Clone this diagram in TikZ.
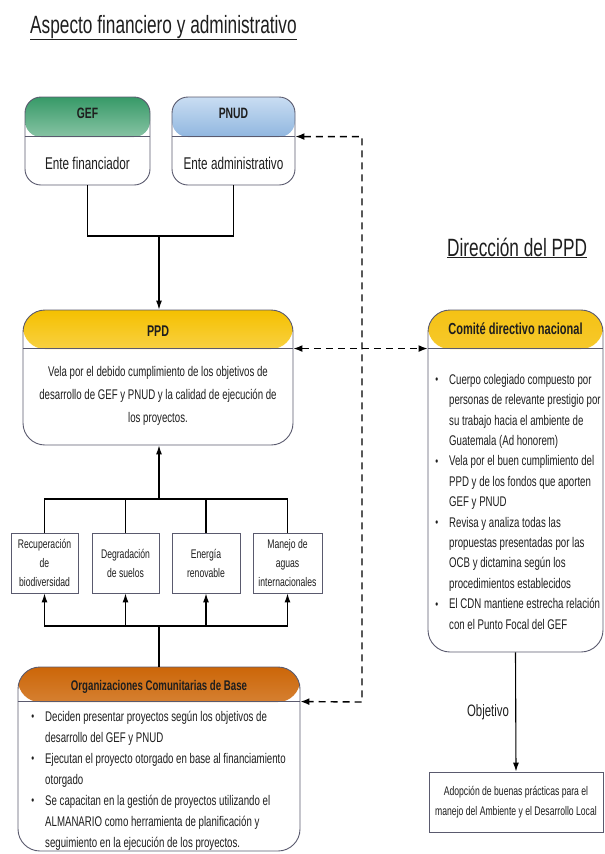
\documentclass[tikz,border=0pt]{standalone}
\usepackage{fontspec}
\setmainfont[FakeStretch=0.69]{Liberation Sans}
\usetikzlibrary{arrows.meta}
\definecolor{bordc}{HTML}{5A5A6E}
\definecolor{txtc}{HTML}{1E1E1E}
\definecolor{gefA}{HTML}{379A68}
\definecolor{gefB}{HTML}{E6F4EB}
\definecolor{pnudA}{HTML}{C9DDF2}
\definecolor{pnudB}{HTML}{4C88C9}
\definecolor{ppdA}{HTML}{F5C000}
\definecolor{ppdB}{HTML}{FFFAE2}
\definecolor{cdnA}{HTML}{F5C214}
\definecolor{cdnB}{HTML}{FFFAE4}
\definecolor{ocbA}{HTML}{CC6608}
\definecolor{ocbB}{HTML}{FCEDDF}
\newcommand\mybul{\makebox[0pt][r]{\raisebox{0.5pt}{\fontsize{12}{12}\selectfont\textbullet}\hspace{11pt}}}
\begin{document}
\begin{tikzpicture}[x=1pt,y=-1pt,
  every node/.style={text=txtc},
  rbox/.style={draw=bordc, line width=0.9pt, rounded corners=#1, inner sep=0pt, fill=white},
  hdrshade/.style n args={3}{path picture={\shade[top color=#1,bottom color=#2]
     (path picture bounding box.north west) rectangle ([yshift=-#3 pt]path picture bounding box.north east);}},
  divline/.style={draw=bordc, line width=0.9pt},
  catbox/.style={draw=bordc, line width=0.9pt, fill=white, inner sep=0pt, minimum height=60pt, align=center, font=\fontsize{12.5}{19}\selectfont},
  conn/.style={draw=black, line width=1.1pt},
  tip/.style={-{Latex[length=9pt,width=6pt]}},
  dline/.style={draw=black, line width=1.4pt, dash pattern=on 7pt off 5pt},
  hdrtitle/.style={font=\fontsize{15}{18}\selectfont\bfseries, anchor=base, inner sep=0pt},
  titlefont/.style={font=\fontsize{25}{30}\selectfont, anchor=base west, inner sep=0pt}
]
\useasboundingbox (0,0) rectangle (605,854);

% titles
\node[titlefont] (t1) at (30,33) {\underline{Aspecto financiero y administrativo}};
\node[titlefont] (t2) at (447,256) {\underline{Dirección del PPD}};

% GEF / PNUD
\node[rbox=16pt, minimum width=125pt, minimum height=88pt, hdrshade={gefA}{gefB}{40}] (gef) at (87.5,141) {};
\draw[divline] ([yshift=-40pt]gef.north west) -- ([yshift=-40pt]gef.north east);
\node[hdrtitle] (gefh) at (87.5,118) {GEF};
\node[font=\fontsize{17}{20}\selectfont, anchor=base, inner sep=0pt] (geft) at (87.5,169) {Ente financiador};

\node[rbox=16pt, minimum width=123pt, minimum height=88pt, hdrshade={pnudA}{pnudB}{40}] (pnud) at (233.5,141) {};
\draw[divline] ([yshift=-40pt]pnud.north west) -- ([yshift=-40pt]pnud.north east);
\coordinate (pnudR) at ([yshift=-40pt]pnud.north east);
\node[hdrtitle] (pnudh) at (233.5,118) {PNUD};
\node[font=\fontsize{17}{20}\selectfont, anchor=base, inner sep=0pt] (pnudt) at (233.5,169) {Ente administrativo};

% PPD
\node[rbox=22pt, minimum width=270pt, minimum height=135pt, hdrshade={ppdA}{ppdB}{39}] (ppd) at (158,377.5) {};
\draw[divline] ([yshift=-39pt]ppd.north west) -- ([yshift=-39pt]ppd.north east);
\coordinate (ppdR) at ([yshift=-39pt]ppd.north east);
\node[hdrtitle, font=\fontsize{15.5}{18}\selectfont\bfseries] (ppdh) at (158,336) {PPD};
\node[font=\fontsize{14}{23}\selectfont, align=center, anchor=base, inner sep=0pt] (ppdt) at (158,422)
 {Vela por el debido cumplimiento de los objetivos de\\desarrollo de GEF y PNUD y la calidad de ejecución de\\los proyectos.};

% Comite
\node[rbox=22pt, minimum width=175pt, minimum height=342pt, hdrshade={cdnA}{cdnB}{39}] (cdn) at (515.5,481) {};
\draw[divline] ([yshift=-39pt]cdn.north west) -- ([yshift=-39pt]cdn.north east);
\coordinate (cdnL) at ([yshift=-39pt]cdn.north west);
\node[hdrtitle, font=\fontsize{16}{18}\selectfont\bfseries] (cdnh) at (515.5,334) {Comité directivo nacional};
\node[font=\fontsize{14}{20.4}\selectfont, align=left, anchor=base west, inner sep=0pt] (cdnt) at (449,629)
 {\mybul Cuerpo colegiado compuesto por\\personas de relevante prestigio por\\su trabajo hacia el ambiente de\\Guatemala (Ad honorem)\\
  \mybul Vela por el buen cumplimiento del\\PPD y de los fondos que aporten\\GEF y PNUD\\
  \mybul Revisa y analiza todas las\\propuestas presentadas por las\\OCB y dictamina según los\\procedimientos establecidos\\
  \mybul El CDN mantiene estrecha relación\\con el Punto Focal del GEF};

% categories
\node[catbox, minimum width=67pt] (c1) at (44.5,563) {Recuperación\\de\\biodiversidad};
\node[catbox, minimum width=67pt] (c2) at (125.5,563) {Degradación\\de suelos};
\node[catbox, minimum width=68pt] (c3) at (206,563) {Energía\\renovable};
\node[catbox, minimum width=69pt] (c4) at (287.5,563) {Manejo de\\aguas\\internacionales};

% OCB
\node[rbox=22pt, minimum width=282pt, minimum height=184pt, hdrshade={ocbA}{ocbB}{35}] (ocb) at (159,759) {};
\draw[divline] ([yshift=-35pt]ocb.north west) -- ([yshift=-35pt]ocb.north east);
\coordinate (ocbR) at ([yshift=-35pt]ocb.north east);
\node[hdrtitle, font=\fontsize{14}{18}\selectfont\bfseries] (ocbh) at (159,690) {Organizaciones Comunitarias de Base};
\node[font=\fontsize{14}{21}\selectfont, align=left, anchor=base west, inner sep=0pt] (ocbt) at (45,847)
 {\mybul Deciden presentar proyectos según los objetivos de\\desarrollo del GEF y PNUD\\
  \mybul Ejecutan el proyecto otorgado en base al financiamiento\\otorgado\\
  \mybul Se capacitan en la gestión de proyectos utilizando el\\ALMANARIO como herramienta de planificación y\\seguimiento en la ejecución de los proyectos.};

% Adopcion
\node[draw=bordc, line width=0.9pt, fill=white, inner sep=0pt, minimum width=174pt, minimum height=60pt, align=center, font=\fontsize{12.5}{20}\selectfont] (adop) at (516,802)
 {Adopción de buenas prácticas para el\\manejo del Ambiente y el Desarrollo Local};

% connectors
\coordinate (jtop) at (159,236);
\draw[conn] (gef.south) |- (jtop) -| (pnud.south);
\draw[conn, tip] (jtop) -- (jtop |- ppd.north);

\coordinate (jmid) at (159,499);
\draw[conn, tip] (jmid) -- (jmid |- ppd.south);
\draw[conn] (c1.north) |- (jmid) -| (c4.north);
\draw[conn] (c2.north) -- (c2.north |- jmid);
\draw[conn] (c3.north) -- (c3.north |- jmid);

\coordinate (jbot) at (159,626);
\draw[conn] (ocb.north) -- (jbot);
\draw[conn, tip] (jbot) -| (c1.south);
\draw[conn, tip] (jbot) -| (c2.south);
\draw[conn, tip] (jbot) -| (c3.south);
\draw[conn, tip] (jbot) -| (c4.south);

\draw[conn, tip] (cdn.south) -- node[left=3pt, font=\fontsize{16.5}{20}\selectfont] (obj) {Objetivo} (adop.north);

% dashed links
\coordinate (dcorner) at (362,702);
\draw[dline, {Latex[length=9pt,width=7pt]}-{Latex[length=9pt,width=7pt]}] (pnudR) -| (dcorner) -- (ocbR);
\draw[dline, {Latex[length=9pt,width=7pt]}-{Latex[length=9pt,width=7pt]}] (ppdR) -- (cdnL);
\end{tikzpicture}
\end{document}
